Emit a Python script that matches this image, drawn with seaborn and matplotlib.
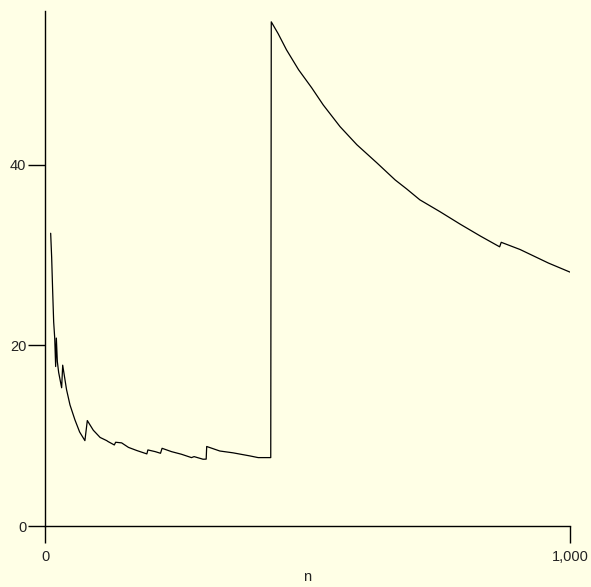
import matplotlib
matplotlib.use("Agg")
import matplotlib.pyplot as plt
import seaborn as sns
import pandas as pd

# running mean values
n_vals = [10.8, 12.7, 14.6, 16.5, 18.5, 20.3, 21.6, 23.5, 26, 31.7, 33.7, 41, 47.6,
          57, 66, 76, 80.6, 92, 105, 117.5, 120, 132, 134.6, 146, 159, 175, 194,
          196, 210, 220, 223, 241, 260, 279, 284, 301, 307, 308, 333, 358, 390,
          406, 430, 431, 444, 460, 483, 508, 530, 562, 594, 632, 667, 689, 714,
          752, 791, 829, 866, 869, 905, 959, 1000]
mean_vals = [32.4, 29.7, 26.0, 22.6, 20.8, 17.65, 20.8, 18.2, 17.0, 15.3, 17.8, 15.1, 13.4,
             11.75, 10.4, 9.45, 11.67, 10.6, 9.8, 9.45, 9.35, 8.97, 9.27, 9.2, 8.7, 8.35, 7.98,
             8.42, 8.23, 8.05, 8.6, 8.23, 7.94, 7.57, 7.68, 7.39, 7.4, 8.8, 8.3, 8.1, 7.76,
             7.57, 7.57, 55.8, 54.5, 52.7, 50.5, 48.5, 46.6, 44.2, 42.2, 40.2, 38.3, 37.3, 36.1,
             34.8, 33.4, 32.1, 30.9, 31.4, 30.6, 29.1, 28.1]
x_ticks = [0, 1000]
x_tick_labels = ["0", "1,000"]
y_ticks = [0, 20, 40]
y_tick_labels = ["0", "20", "40"]

df = pd.DataFrame({"n": n_vals, "mean": mean_vals})

sns.set_style("ticks")
bg = "#FFFFE6"
plt.rcParams["font.family"] = ["Liberation Sans", "DejaVu Sans"]

W, H = 591, 587
fig = plt.figure(figsize=(W / 100, H / 100), dpi=100, facecolor=bg)
ax = fig.add_axes([45 / W, (H - 526) / H, (570 - 45) / W, (526 - 11) / H])
ax.set_facecolor(bg)

sns.lineplot(data=df, x="n", y="mean", ax=ax, color="black", linewidth=0.9,
             estimator=None, sort=False)

ax.set_xlim(0, 1000)
ax.set_ylim(0, 57)
ax.set_xticks(x_ticks)
ax.set_xticklabels(x_tick_labels)
ax.set_yticks(y_ticks)
ax.set_yticklabels(y_tick_labels)
ax.set_xlabel("n", fontsize=10.5, labelpad=4.5, color="#222222")
ax.set_ylabel("")

for s in ["top", "right"]:
    ax.spines[s].set_visible(False)
for s in ["left", "bottom"]:
    ax.spines[s].set_linewidth(1.0)
    ax.spines[s].set_color("black")

ax.tick_params(axis="both", direction="out", length=12, width=1.0, colors="black",
               labelsize=10.5, labelcolor="#222222")
ax.tick_params(axis="y", pad=1.5)
ax.tick_params(axis="x", pad=5)

fig.savefig("out.png", dpi=100, facecolor=bg)
